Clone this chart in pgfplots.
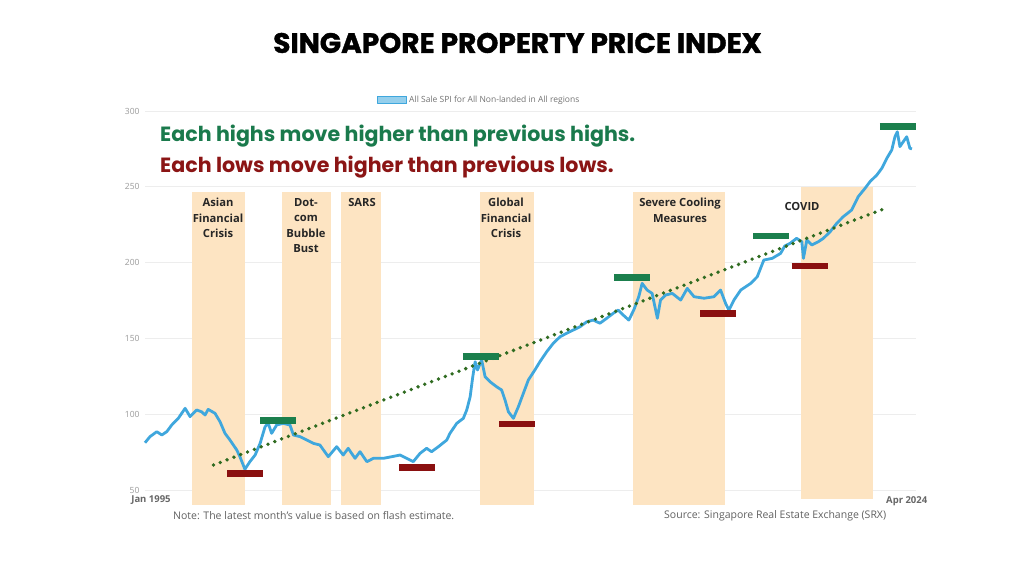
\documentclass[border=0pt]{standalone}
\usepackage{fontspec}
\setmainfont{Open Sans}
\newfontfamily\pop{Poppins}
\newfontfamily\popheavy{Poppins}[BoldFeatures={FakeBold=1.4}]
\usepackage{pgfplots}
\pgfplotsset{compat=1.18}
\definecolor{spi}{HTML}{3FA7DD}
\definecolor{band}{HTML}{FDE4C2}
\definecolor{hi}{HTML}{1B7F4D}
\definecolor{lo}{HTML}{8A1010}
\definecolor{trend}{HTML}{2F6B20}
\definecolor{tickc}{HTML}{9A9A9A}
\definecolor{hl1}{HTML}{1A7A4C}
\definecolor{hl2}{HTML}{8B1515}
\pgfplotstableread{
x y
1995.00 81.2
1995.19 85.2
1995.45 88.5
1995.64 86.3
1995.83 88.5
1996.02 92.9
1996.27 97.3
1996.53 103.9
1996.72 98.4
1996.97 102.8
1997.16 101.6
1997.29 99.5
1997.41 103.2
1997.67 100.6
1997.86 95.1
1998.05 87.4
1998.24 83.0
1998.50 76.4
1998.62 72.0
1998.81 63.7
1999.00 68.7
1999.20 73.1
1999.39 80.8
1999.58 91.8
1999.70 94.0
1999.83 87.4
2000.02 92.9
2000.27 94.0
2000.53 92.9
2000.66 86.3
2000.91 85.2
2001.17 83.0
2001.42 80.8
2001.67 79.7
2001.99 72.0
2002.31 78.6
2002.56 73.1
2002.75 77.5
2003.01 70.9
2003.20 75.3
2003.46 68.7
2003.71 70.9
2004.09 70.9
2004.41 72.0
2004.73 73.1
2004.98 70.9
2005.23 68.7
2005.49 74.2
2005.74 77.5
2005.93 75.3
2006.19 78.6
2006.51 83.0
2006.63 87.4
2006.89 94.0
2007.14 97.3
2007.27 102.8
2007.40 111.5
2007.50 124.7
2007.59 134.6
2007.68 129.2
2007.84 135.8
2007.97 124.7
2008.16 121.4
2008.41 118.1
2008.60 116.0
2008.73 109.4
2008.86 101.6
2009.05 97.3
2009.24 105.0
2009.43 113.8
2009.62 122.6
2009.87 129.2
2010.06 134.6
2010.32 141.2
2010.57 146.8
2010.83 151.1
2011.08 153.4
2011.33 155.5
2011.59 157.7
2011.85 161.0
2012.10 162.1
2012.35 160.0
2012.61 163.3
2012.86 166.6
2013.05 168.7
2013.20 166.0
2013.45 162.1
2013.64 168.7
2013.83 177.5
2013.96 186.3
2014.15 181.9
2014.34 179.7
2014.54 163.3
2014.66 175.3
2014.85 178.6
2015.11 179.7
2015.43 175.3
2015.68 183.0
2015.94 177.5
2016.32 176.5
2016.70 177.5
2016.95 181.9
2017.14 173.2
2017.27 168.7
2017.46 175.3
2017.72 181.9
2018.10 186.3
2018.35 190.7
2018.60 201.7
2018.92 202.8
2019.24 206.1
2019.40 211.0
2019.60 212.7
2019.85 216.0
2020.05 213.8
2020.11 202.8
2020.24 214.9
2020.43 211.6
2020.68 213.8
2020.87 216.0
2021.13 220.4
2021.38 225.9
2021.63 230.3
2021.95 234.7
2022.20 243.5
2022.46 249.0
2022.65 253.4
2022.91 257.8
2023.10 262.2
2023.29 268.8
2023.48 274.3
2023.60 283.0
2023.69 286.3
2023.79 276.5
2023.92 279.8
2024.05 283.0
2024.17 275.4
2024.25 275.0
}\spidata
\begin{document}
\begin{tikzpicture}[x=1pt,y=1pt]
\useasboundingbox (0,0) rectangle (1024,564);
\fill[white] (0,0) rectangle (1024,564);
\begin{axis}[
  at={(145pt,58.8pt)}, anchor=south west,
  scale only axis, width=770.9pt, height=394.2pt,
  xmin=1995, xmax=2024.4, ymin=40, ymax=300,
  ytick={50,100,150,200,250,300}, xtick=\empty,
  ymajorgrids, grid style={draw=black!7, line width=0.8pt},
  axis line style={draw=none}, major tick length=0pt,
  yticklabel style={font=\fontsize{8.5}{9}\selectfont, text=tickc, xshift=-2pt},
  /pgf/number format/assume math mode=true,
  clip=false,
  legend style={at={(0.301,1.028)}, anchor=west, draw=none, fill=none,
    font=\fontsize{8.5}{9}\selectfont, text=black!55, inner sep=0pt},
  legend image code/.code={\draw[fill=spi!55, draw=spi, line width=1pt] (0pt,-3.8pt) rectangle (29pt,3.8pt);},
]
% bands
\addplot[fill=band, draw=none, forget plot] coordinates {(1996.78,40) (1998.81,40) (1998.81,246.8) (1996.78,246.8)} -- cycle;
\addplot[fill=band, draw=none, forget plot] coordinates {(2000.21,40) (2002.08,40) (2002.08,246.8) (2000.21,246.8)} -- cycle;
\addplot[fill=band, draw=none, forget plot] coordinates {(2002.48,40) (2003.99,40) (2003.99,246.8) (2002.48,246.8)} -- cycle;
\addplot[fill=band, draw=none, forget plot] coordinates {(2007.78,40) (2009.85,40) (2009.85,246.8) (2007.78,246.8)} -- cycle;
\addplot[fill=band, draw=none, forget plot] coordinates {(2013.62,40) (2017.12,40) (2017.12,246.8) (2013.62,246.8)} -- cycle;
\addplot[fill=band, draw=none, forget plot] coordinates {(2020.02,44) (2022.78,44) (2022.78,250.1) (2020.02,250.1)} -- cycle;
% main line
\addplot[spi, line width=2.8pt, line join=round, no markers] table[x=x,y=y] {\spidata};
\addlegendentry{All Sale SPI for All Non-landed in All regions}
% trend
\addplot[trend, line width=3.8pt, line cap=round, dash pattern=on 0pt off 7.3pt, forget plot] coordinates {(1997.61,66.5) (2023.23,235.8)};
% lows
\addplot[lo, line width=6.7pt, forget plot] coordinates {(1998.14,60.7) (1999.49,60.7)};
\addplot[lo, line width=6.7pt, forget plot] coordinates {(2004.70,65.0) (2006.06,65.0)};
\addplot[lo, line width=6.7pt, forget plot] coordinates {(2008.51,93.5) (2009.87,93.5)};
\addplot[lo, line width=6.7pt, forget plot] coordinates {(2016.17,166.6) (2017.54,166.6)};
\addplot[lo, line width=6.7pt, forget plot] coordinates {(2019.66,197.8) (2021.04,197.8)};
% highs
\addplot[hi, line width=6.7pt, forget plot] coordinates {(1999.39,96.0) (2000.75,96.0)};
\addplot[hi, line width=6.7pt, forget plot] coordinates {(2007.12,137.9) (2008.51,137.9)};
\addplot[hi, line width=6.7pt, forget plot] coordinates {(2012.89,190.0) (2014.26,190.0)};
\addplot[hi, line width=6.7pt, forget plot] coordinates {(2018.20,217.5) (2019.57,217.5)};
\addplot[hi, line width=6.7pt, forget plot] coordinates {(2023.03,289.6) (2024.40,289.6)};
\end{axis}
% title
\node[font=\popheavy\bfseries\fontsize{28}{30}\selectfont, inner sep=0pt] at (517.5,{564-43}) {SINGAPORE PROPERTY PRICE INDEX};
% headlines
\node[font=\pop\bfseries\fontsize{20.6}{24}\selectfont, text=hl1, anchor=west, inner sep=0pt] at (160,{564-136}) {Each highs move higher than previous highs.};
\node[font=\pop\bfseries\fontsize{20.6}{24}\selectfont, text=hl2, anchor=west, inner sep=0pt] at (160,{564-167}) {Each lows move higher than previous lows.};
% band labels
\begin{scope}[every node/.style={font=\bfseries\fontsize{11.2}{15.5}\selectfont, text=black!85, align=center, anchor=north, inner sep=0pt}]
\node at (218,{564-198}) {Asian\\Financial\\Crisis};
\node at (306,{564-198}) {Dot-\\com\\Bubble\\Bust};
\node at (362,{564-198}) {SARS};
\node at (506,{564-198}) {Global\\Financial\\Crisis};
\node at (680,{564-198}) {Severe Cooling\\Measures};
\node at (802,{564-202}) {COVID};
\end{scope}
% axis end labels
\node[font=\bfseries\fontsize{9.5}{10}\selectfont, text=black!60, inner sep=0pt] at (151,{564-500}) {Jan 1995};
\node[font=\bfseries\fontsize{9.5}{10}\selectfont, text=black!60, inner sep=0pt] at (906.7,{564-500.7}) {Apr 2024};
% footer
\node[font=\fontsize{10.5}{12}\selectfont, text=black!62, anchor=west, inner sep=0pt] at (173,{564-516}) {Note: The latest month's value is based on flash estimate.};
\node[font=\fontsize{10.5}{12}\selectfont, text=black!62, anchor=west, inner sep=0pt] at (664,{564-516}) {Source: Singapore Real Estate Exchange (SRX)};
\end{tikzpicture}
\end{document}
